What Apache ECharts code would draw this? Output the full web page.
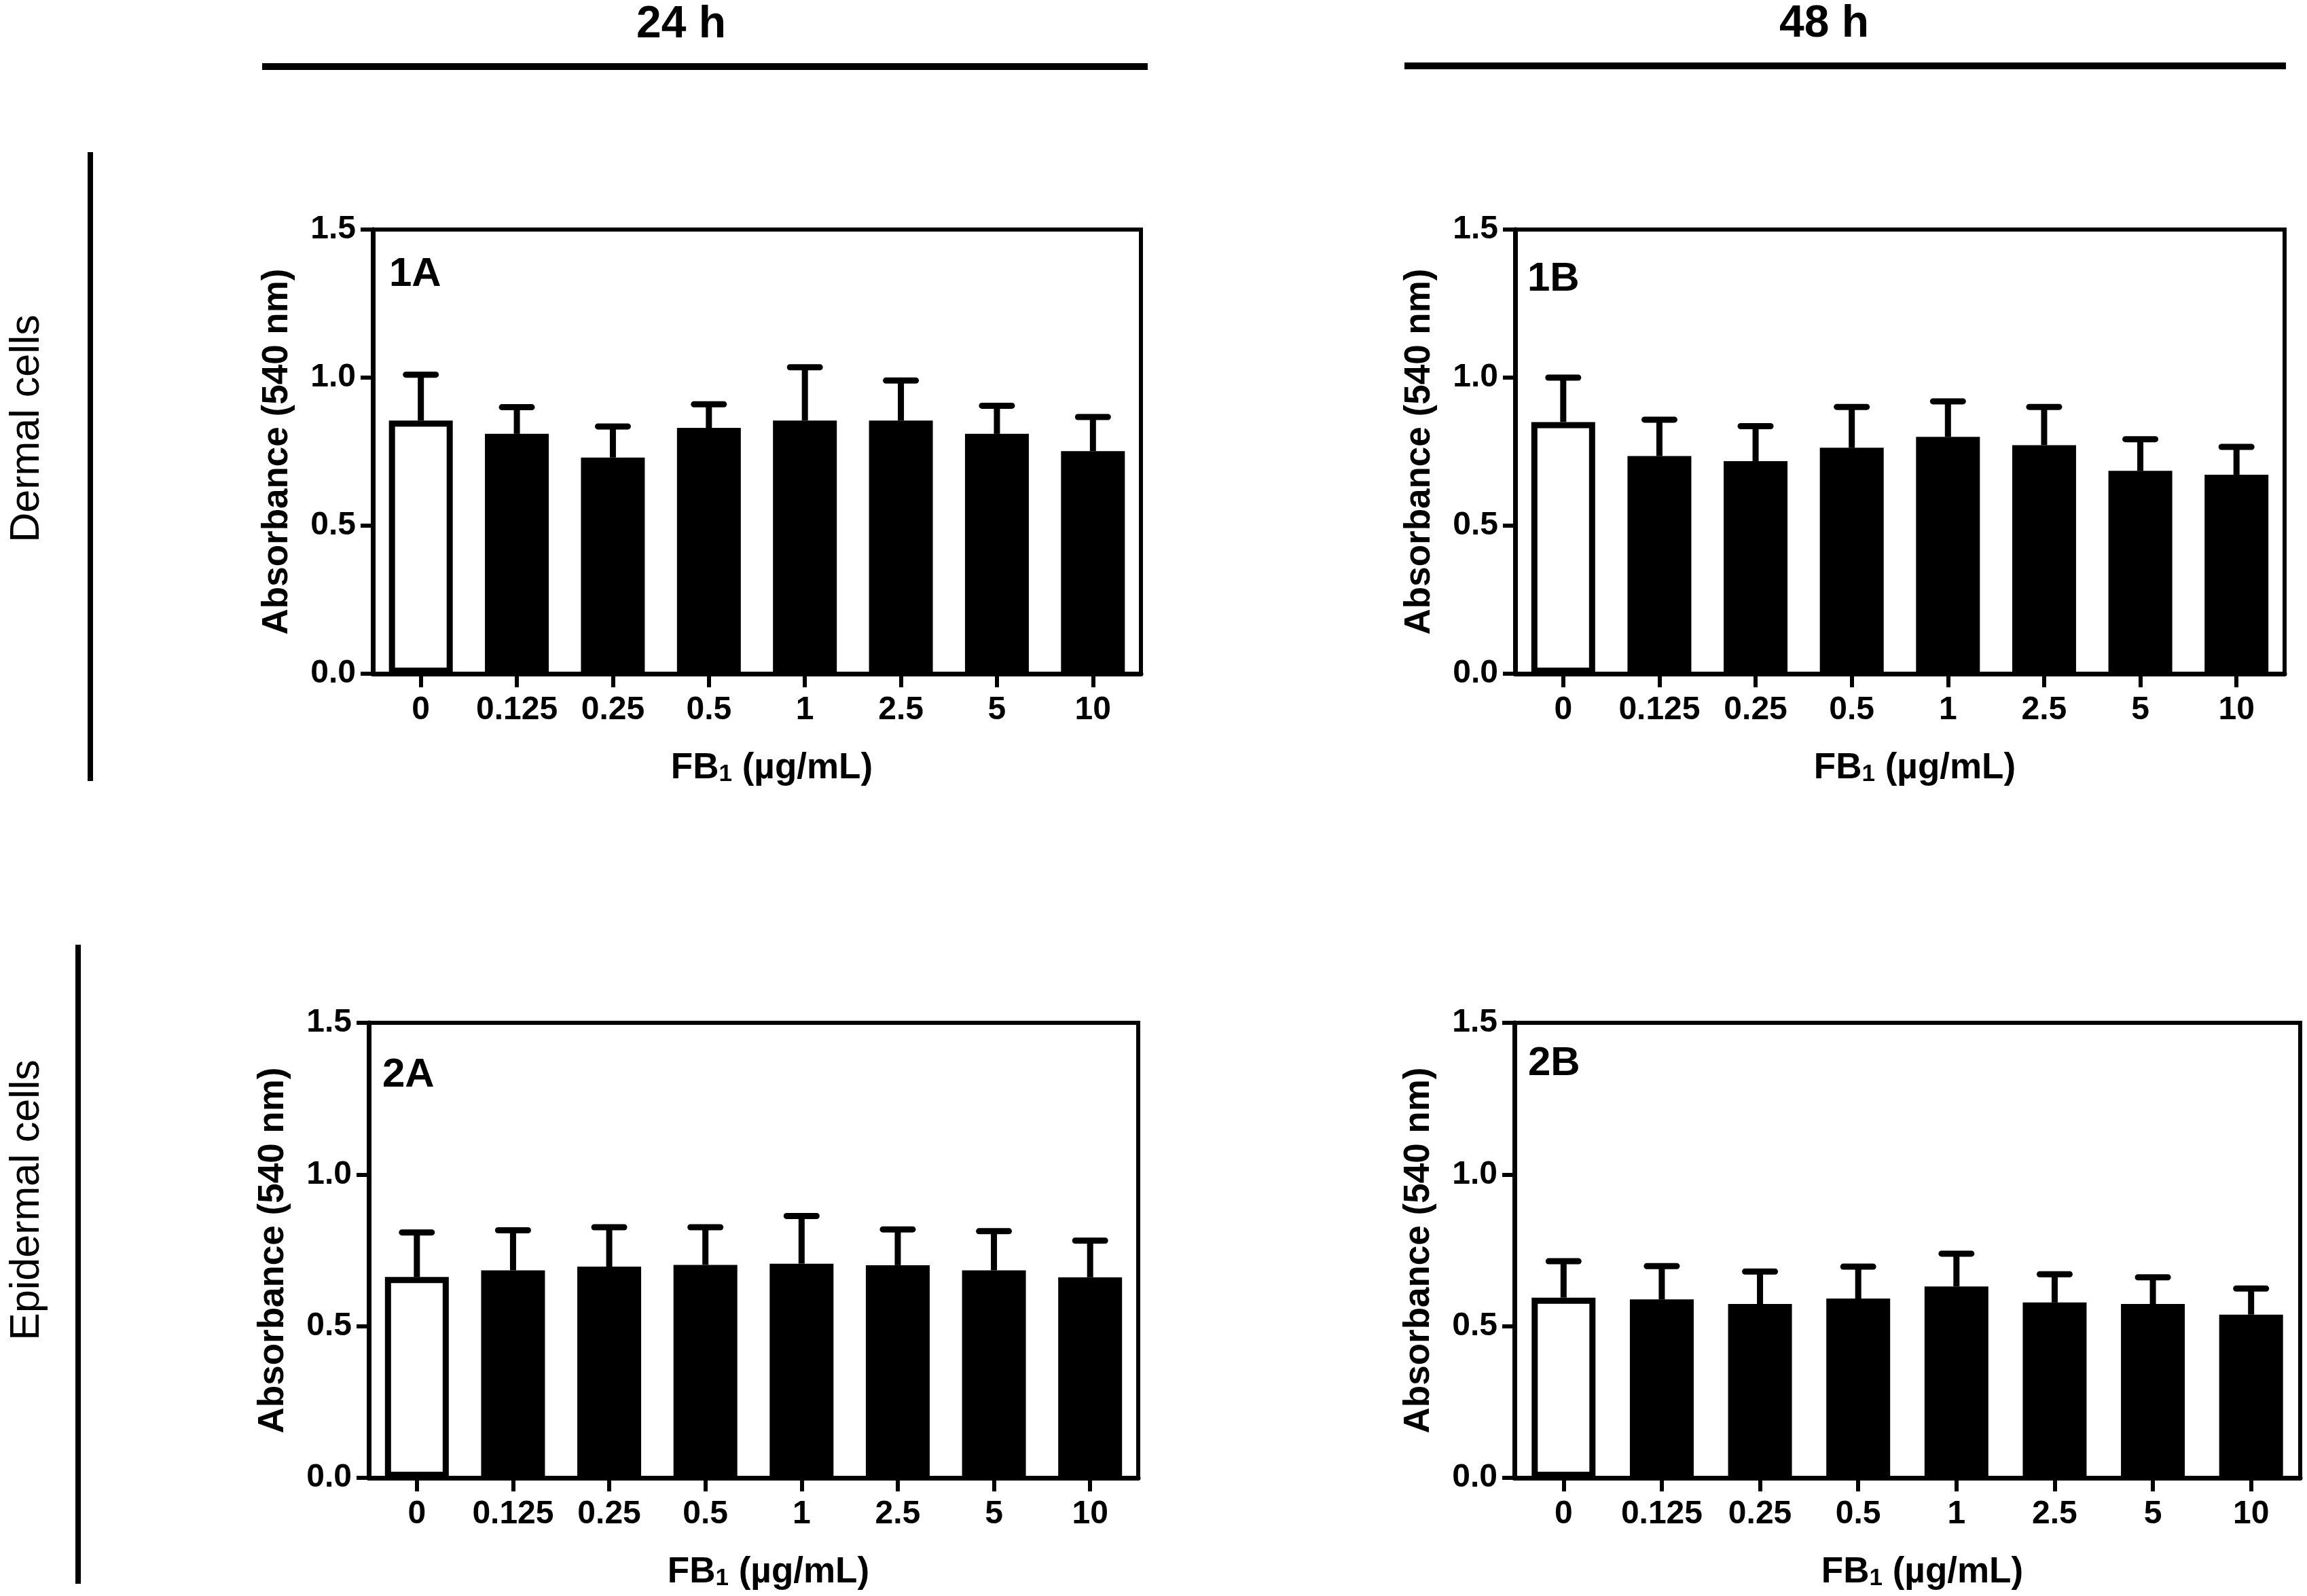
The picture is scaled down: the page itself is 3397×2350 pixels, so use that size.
<!DOCTYPE html>
<html>
<head>
<meta charset="utf-8">
<script src="https://cdn.jsdelivr.net/npm/echarts@6/dist/echarts.min.js"></script>
<style>
html,body{margin:0;padding:0;background:#fff;}
#chart{width:3397px;height:2350px;}
</style>
</head>
<body>
<div id="chart"></div>
<script>
// ---- data ----
const categories = ['0', '0.125', '0.25', '0.5', '1', '2.5', '5', '10'];
const yTicks = { min: 0, max: 1.5, interval: 0.5 };

const mean1A = [0.855, 0.81, 0.73, 0.83, 0.855, 0.855, 0.81, 0.752];
const err1A  = [0.155, 0.09, 0.105, 0.08, 0.18, 0.135, 0.095, 0.115];

const mean1B = [0.85, 0.735, 0.718, 0.763, 0.80, 0.772, 0.685, 0.672];
const err1B  = [0.15, 0.123, 0.118, 0.138, 0.12, 0.129, 0.107, 0.094];

const mean2A = [0.662, 0.684, 0.696, 0.702, 0.706, 0.701, 0.684, 0.661];
const err2A  = [0.147, 0.132, 0.13, 0.124, 0.157, 0.118, 0.129, 0.121];

const mean2B = [0.594, 0.588, 0.573, 0.591, 0.631, 0.578, 0.573, 0.538];
const err2B  = [0.12, 0.11, 0.107, 0.105, 0.108, 0.093, 0.088, 0.086];

const panels = [
  { label: '1A', mean: mean1A, err: err1A },
  { label: '1B', mean: mean1B, err: err1B },
  { label: '2A', mean: mean2A, err: err2A },
  { label: '2B', mean: mean2B, err: err2B }
];

// ---- layout / style ----
const FONT = '"Liberation Sans", Arial, Helvetica, sans-serif';
const grids = [
  { left: 549,  top: 338,  width: 1131, height: 654 },
  { left: 2231, top: 338,  width: 1133, height: 654 },
  { left: 543,  top: 1506, width: 1133, height: 670 },
  { left: 2230, top: 1506, width: 1157, height: 670 }
];
const labelPos = [[573, 374], [2249, 381], [563, 1553], [2250, 1536]];

const chart = echarts.init(document.getElementById('chart'), null, { renderer: 'canvas', devicePixelRatio: 1 });

const option = {
  backgroundColor: '#ffffff',
  animation: false,
  grid: grids.map(g => Object.assign({ show: true, borderColor: '#000', borderWidth: 6, backgroundColor: 'transparent', containLabel: false }, g)),
  xAxis: grids.map((g, i) => ({
    gridIndex: i,
    type: 'category',
    data: categories,
    axisLine: { show: true, lineStyle: { color: '#000', width: 7 } },
    axisTick: { show: true, alignWithLabel: true, length: 20, lineStyle: { color: '#000', width: 6 } },
    axisLabel: { interval: 0, color: '#000', fontSize: 48, fontWeight: 'bold', fontFamily: FONT, margin: 30 },
    splitLine: { show: false },
    name: '{a|FB}{s|1}{a| (µg/mL)}',
    nameLocation: 'middle',
    nameGap: 110,
    nameTextStyle: {
      padding: [0, 0, 0, 44],
      rich: {
        a: { fontSize: 53, fontWeight: 'bold', fontFamily: FONT, color: '#000', lineHeight: 56, verticalAlign: 'bottom' },
        s: { fontSize: 35, fontWeight: 'bold', fontFamily: FONT, color: '#000', lineHeight: 22, verticalAlign: 'bottom' }
      }
    }
  })),
  yAxis: grids.map((g, i) => ({
    gridIndex: i,
    type: 'value',
    min: yTicks.min,
    max: yTicks.max,
    interval: yTicks.interval,
    axisLine: { show: true, lineStyle: { color: '#000', width: 7 } },
    axisTick: { show: true, length: 18, lineStyle: { color: '#000', width: 6 } },
    axisLabel: { color: '#000', fontSize: 48, fontWeight: 'bold', fontFamily: FONT, margin: 25, formatter: v => v.toFixed(1) },
    splitLine: { show: false },
    name: 'Absorbance (540 nm)',
    nameLocation: 'middle',
    nameGap: 114,
    nameTextStyle: { color: '#000', fontSize: 53, fontWeight: 'bold', fontFamily: FONT }
  })),
  series: [],
  graphic: []
};

panels.forEach((p, i) => {
  option.series.push({
    type: 'bar',
    xAxisIndex: i,
    yAxisIndex: i,
    barWidth: 94,
    data: p.mean.map((v, k) => ({
      value: v,
      itemStyle: k === 0 ? { color: '#fff', borderColor: '#000', borderWidth: 9 }
                         : { color: '#000', borderColor: '#000', borderWidth: 9 }
    })),
    z: 2
  });
  option.series.push({
    type: 'custom',
    xAxisIndex: i,
    yAxisIndex: i,
    data: p.mean.map((v, k) => [k, v, v + p.err[k]]),
    renderItem: function (params, api) {
      const k = api.value(0);
      const base = api.coord([k, api.value(1)]);
      const top = api.coord([k, api.value(2)]);
      const half = 22;
      return {
        type: 'group',
        children: [
          { type: 'line', shape: { x1: base[0], y1: base[1], x2: top[0], y2: top[1] },
            style: { stroke: '#000', lineWidth: 9 } },
          { type: 'line', shape: { x1: top[0] - half, y1: top[1], x2: top[0] + half, y2: top[1] },
            style: { stroke: '#000', lineWidth: 9, lineCap: 'round' } }
        ]
      };
    },
    z: 3
  });
  option.graphic.push({
    type: 'text', left: labelPos[i][0], top: labelPos[i][1],
    style: { text: p.label, fill: '#000', font: 'bold 60px ' + FONT }
  });
});

// header texts and decorative rules
option.graphic.push(
  { type: 'text', x: 1003, y: 37, style: { text: '24 h', fill: '#000', font: 'bold 66px ' + FONT, textAlign: 'center', textVerticalAlign: 'middle' } },
  { type: 'text', x: 2686, y: 36, style: { text: '48 h', fill: '#000', font: 'bold 66px ' + FONT, textAlign: 'center', textVerticalAlign: 'middle' } },
  { type: 'line', shape: { x1: 386, y1: 98, x2: 1690, y2: 98 }, style: { stroke: '#000', lineWidth: 10 } },
  { type: 'line', shape: { x1: 2068, y1: 97, x2: 3366, y2: 97 }, style: { stroke: '#000', lineWidth: 10 } },
  { type: 'line', shape: { x1: 133, y1: 224, x2: 133, y2: 1150 }, style: { stroke: '#000', lineWidth: 8 } },
  { type: 'line', shape: { x1: 115, y1: 1391, x2: 115, y2: 2332 }, style: { stroke: '#000', lineWidth: 8 } },
  { type: 'text', x: 40, y: 631, rotation: Math.PI / 2, style: { text: 'Dermal cells', fill: '#000', font: '61px ' + FONT, textAlign: 'center', textVerticalAlign: 'middle' } },
  { type: 'text', x: 40, y: 1767, rotation: Math.PI / 2, style: { text: 'Epidermal cells', fill: '#000', font: '61px ' + FONT, textAlign: 'center', textVerticalAlign: 'middle' } }
);

chart.setOption(option);
</script>
</body>
</html>
